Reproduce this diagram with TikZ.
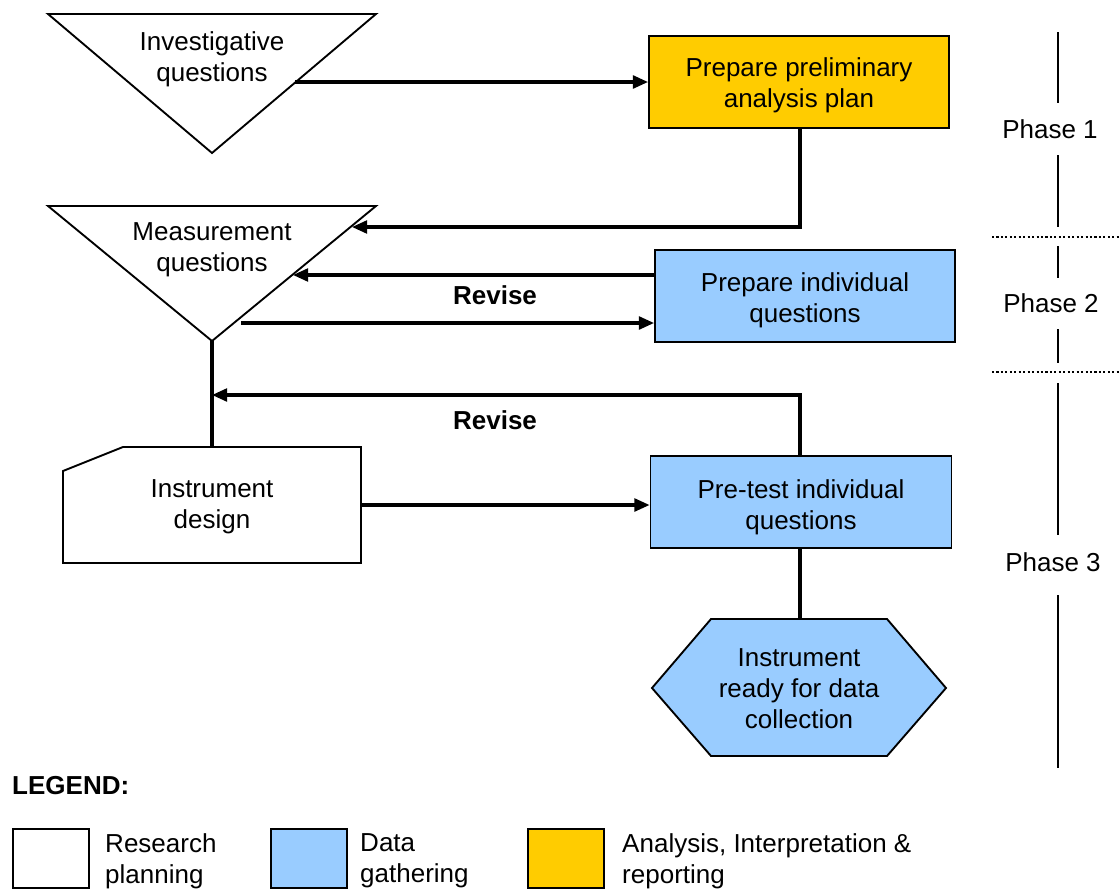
\documentclass[tikz,border=0pt]{standalone}
\usepackage{fontspec}
\setmainfont{Liberation Sans}
\usetikzlibrary{arrows.meta}
\definecolor{ayellow}{HTML}{FFCC00}
\definecolor{ablue}{HTML}{99CCFF}
\begin{document}
\begin{tikzpicture}[x=0.03cm,y=-0.03cm,
  txt/.style={font=\fontsize{22.2}{26.4}\selectfont, align=center, inner sep=0pt},
  ltxt/.style={font=\fontsize{22.2}{26.4}\selectfont, align=left, inner sep=0pt, anchor=west},
  boxstyle/.style={draw=black, line width=1.6pt, minimum width=9cm, minimum height=2.76cm, inner sep=0pt},
  shapeline/.style={draw=black, line width=1.6pt, line join=miter},
  conn/.style={line width=2.6pt},
  arr/.style={line width=2.6pt, -{Triangle[length=13pt,width=11pt]}},
  phaseline/.style={line width=1.3pt},
  dotline/.style={line width=1.8pt, dotted},
  legbox/.style={draw=black, line width=1.6pt, minimum width=2.28cm, minimum height=1.77cm, inner sep=0pt}
]
\useasboundingbox (0,0) rectangle (1120,889);

% Investigative questions triangle
\draw[shapeline, fill=white] (48,14) -- (376,14) -- (212,153) -- cycle;
\node[txt] (iq) at (212,59) {Investigative\\questions};
\coordinate (iqR) at (295,82);

% Measurement questions triangle
\draw[shapeline, fill=white] (48,206) -- (376,206) -- (212,341) -- cycle;
\node[txt] (mq) at (212,250) {Measurement\\questions};
\coordinate (mqA) at (352,227);
\coordinate (mqB) at (293,275);
\coordinate (mqC) at (241,323);
\coordinate (mqApex) at (212,341);

% Instrument design
\draw[shapeline, fill=white] (63,471) -- (123,447) -- (361,447) -- (361,563) -- (63,563) -- cycle;
\node[txt] (id) at (212,507) {Instrument\\design};
\coordinate (idTop) at (212,447);
\coordinate (idR) at (361,505);
\coordinate (idJ) at (212,395);

% Boxes
\node[boxstyle, fill=ayellow] (ppa) at (799,82) {};
\node[txt] (ppat) at (799,85.5) {Prepare preliminary\\analysis plan};
\node[boxstyle, fill=ablue] (pi) at (805,296) {};
\node[txt] (pit) at (805,300) {Prepare individual\\questions};
\node[boxstyle, fill=ablue, minimum width=9.03cm] (pt) at (801,502) {};
\node[txt] (ptt) at (801,507) {Pre-test individual\\questions};

% Hexagon
\draw[shapeline, fill=ablue] (652,688) -- (711,619) -- (887,619) -- (946,688) -- (887,756) -- (711,756) -- cycle;
\node[txt] (ir) at (799,689) {Instrument\\ready for data\\collection};
\coordinate (irTop) at (800,619);

% Connectors
\draw[arr] (iqR) -- (iqR -| ppa.west);
\draw[arr] (ppa.south -| 800,0) |- (mqA);
\draw[arr] (mqB -| pi.west) -- (mqB);
\draw[arr] (mqC) -- (mqC -| pi.west);
\draw[conn] (mqApex) -- (idTop);
\draw[arr] (pt.north -| 800,0) |- (idJ);
\draw[arr] (idR) -- (idR -| pt.west);
\draw[conn] (pt.south -| 800,0) -- (irTop);

% Revise labels
\node[txt, font=\fontsize{22.2}{26.4}\selectfont\bfseries] (rev1) at (495,295) {Revise};
\node[txt, font=\fontsize{22.2}{26.4}\selectfont\bfseries] (rev2) at (495,420) {Revise};

% Phases
\node[txt] (ph1) at (1050,129) {Phase 1};
\node[txt] (ph2) at (1051,303) {Phase 2};
\node[txt] (ph3) at (1053,562) {Phase 3};
\draw[phaseline] (1058,32) -- (1058,103);
\draw[phaseline] (1058,155) -- (1058,227);
\draw[phaseline] (1058,246) -- (1058,278);
\draw[phaseline] (1058,329) -- (1058,363);
\draw[phaseline] (1058,383) -- (1058,535);
\draw[phaseline] (1058,595) -- (1058,768);
\draw[dotline] (992,237) -- (1120,237);
\draw[dotline] (992,372) -- (1120,372);

% Legend
\node[ltxt, font=\fontsize{22.2}{26.4}\selectfont\bfseries] (leg) at (12,786) {LEGEND:};
\node[legbox, fill=white, anchor=north west] (lw) at (12,828) {};
\node[ltxt] (lwt) at (105,861) {Research\\planning};
\node[legbox, fill=ablue, anchor=north west] (lb) at (270,828) {};
\node[ltxt] (lbt) at (360,861) {Data\\gathering};
\node[legbox, fill=ayellow, anchor=north west] (ly) at (527,828) {};
\node[ltxt] (lyt) at (622,861) {Analysis, Interpretation \&\\reporting};
\end{tikzpicture}
\end{document}
